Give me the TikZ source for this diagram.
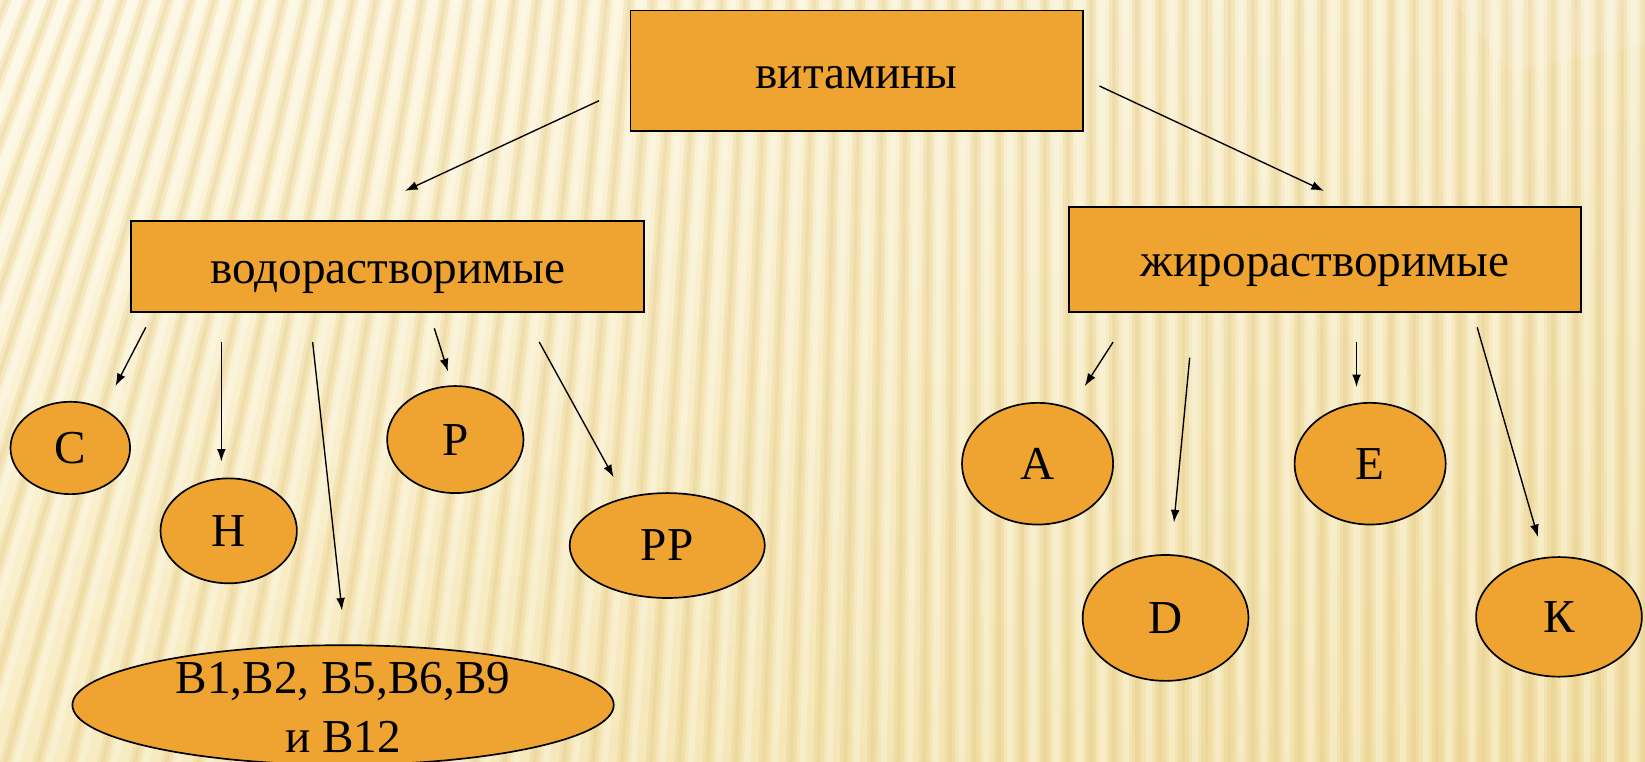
\documentclass[tikz,border=0pt]{standalone}
\usepackage{fontspec}
\setmainfont{Liberation Serif}
\usetikzlibrary{arrows.meta,shapes.geometric}
\definecolor{orangefill}{RGB}{239,164,50}
\definecolor{bgL}{RGB}{253,245,214}
\definecolor{bgR}{RGB}{244,228,175}
\definecolor{bgB}{RGB}{240,220,160}
\definecolor{stripecol}{RGB}{226,196,118}
\definecolor{linecol}{RGB}{0,0,0}
\tikzset{
  box/.style={rectangle,draw=linecol,line width=0.9pt,fill=orangefill,inner sep=0pt,
    text height=16.5pt,text depth=0pt,font=\fontsize{22.5}{27.5}\selectfont},
  oval/.style={ellipse,draw=linecol,line width=0.8pt,fill=orangefill,inner sep=0pt,
    font=\fontsize{22.5}{27.5}\selectfont},
  lbl/.style={inner sep=0pt,align=center,font=\fontsize{22.5}{28}\selectfont},
  conn/.style={draw=linecol,line width=0.65pt,-{Latex[length=6pt,width=4.2pt]}},
  stripesoft/.style={draw=stripecol,line width=5pt,opacity=0.22},
  stripehard/.style={draw=stripecol,line width=1.8pt,opacity=0.22},
  stripelight/.style={draw=white,line width=3pt,opacity=0.28}
}
\begin{document}
\begin{tikzpicture}[x=0.5pt,y=-0.5pt]
\useasboundingbox (0,0) rectangle (1568,726);
% background
\shade[left color=bgL,right color=bgR] (0,0) rectangle (1568,726);
\shade[top color=white,bottom color=bgB,opacity=0.35] (0,0) rectangle (1568,726);
\begin{scope}
\clip (0,0) rectangle (1568,726);
\foreach \s in {-60,-38,...,1620} {
  \pgfmathsetmacro{\f}{max(0,1-\s/950)}
  \pgfmathsetmacro{\t}{tan(22*\f^1.5)}
  \pgfmathsetmacro{\xa}{\s+14*\t}
  \pgfmathsetmacro{\xb}{\s-740*\t}
  \draw[stripesoft] (\xa,-14) -- (\xb,740);
  \draw[stripehard] (\xa,-14) -- (\xb,740);
  \draw[stripelight] (\xa+11,-14) -- (\xb+11,740);
}
\fill[white,opacity=0.12] (1385,0) -- (1568,0) -- (1568,42) -- (1440,68) -- cycle;
\end{scope}

% boxes
\node[box,minimum width=215.5pt,minimum height=57.5pt] (vit) at (816.5,67.5) {витамины};
\node[box,minimum width=244.5pt,minimum height=43pt] (vod) at (369.5,254) {водорастворимые};
\node[box,minimum width=244pt,minimum height=50pt] (zhir) at (1263,247) {жирорастворимые};

% ellipses
\node[oval,minimum width=57pt,minimum height=44pt] (C) at (67,427) {С};
\node[oval,minimum width=65pt,minimum height=50pt] (H) at (218,506) {Н};
\node[oval,minimum width=258pt,minimum height=57pt] (B) at (327,672) {};
\node[lbl] (Btext) at (327,674) {В1,В2, В5,В6,В9\\и В12};
\node[oval,minimum width=65pt,minimum height=51pt] (P) at (434,419) {Р};
\node[oval,minimum width=93pt,minimum height=50pt] (PP) at (636,520) {РР};
\node[oval,minimum width=72pt,minimum height=58pt] (A) at (989,442) {А};
\node[oval,minimum width=79pt,minimum height=60pt] (D) at (1111,589) {D};
\node[oval,minimum width=72pt,minimum height=58pt] (E) at (1306,442) {Е};
\node[oval,minimum width=79pt,minimum height=57pt] (K) at (1486,588) {К};

% connector end points
\coordinate (vitL) at (571,96);   \coordinate (vodT) at (386,182);
\coordinate (vitR) at (1048,82);  \coordinate (zhirT) at (1262,182);
\coordinate (vC) at (139,312);    \coordinate (Ct) at (110,368);
\coordinate (vH) at (211,326);    \coordinate (Ht) at (211,440);
\coordinate (vB) at (298,326);    \coordinate (Bt) at (326,582);
\coordinate (vP) at (414,313);    \coordinate (Pt) at (427,354);
\coordinate (vPP) at (514,326);   \coordinate (PPt) at (585,455);
\coordinate (zA) at (1061,326);   \coordinate (At) at (1034,368);
\coordinate (zD) at (1134,341);   \coordinate (Dt) at (1119,498);
\coordinate (zE) at (1293,326);   \coordinate (Et) at (1293,369);
\coordinate (zK) at (1408,312);   \coordinate (Kt) at (1466,512);

\draw[conn] (vitL) -- (vodT);
\draw[conn] (vitR) -- (zhirT);
\draw[conn] (vC) -- (Ct);
\draw[conn] (vH) -- (Ht);
\draw[conn] (vB) -- (Bt);
\draw[conn] (vP) -- (Pt);
\draw[conn] (vPP) -- (PPt);
\draw[conn] (zA) -- (At);
\draw[conn] (zD) -- (Dt);
\draw[conn] (zE) -- (Et);
\draw[conn] (zK) -- (Kt);
\end{tikzpicture}
\end{document}
